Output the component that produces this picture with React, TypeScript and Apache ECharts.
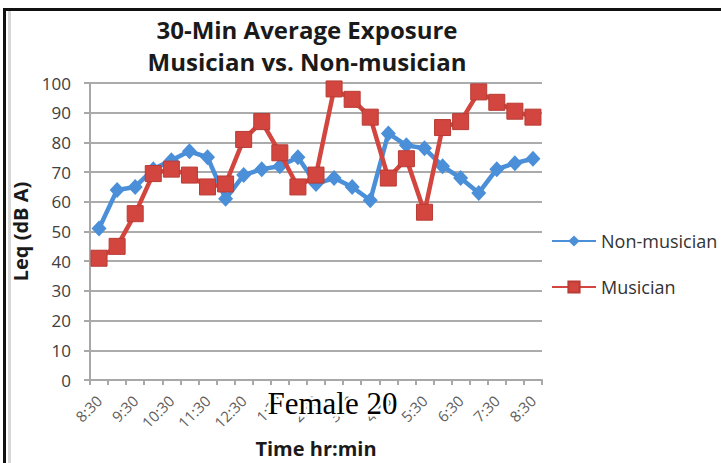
import React, { useEffect, useRef } from "react";
import * as echarts from "echarts";

// Half-hour sampling times, 8:30 am through 8:30 pm
const times = [
  "8:30", "9:00", "9:30", "10:00", "10:30", "11:00", "11:30", "12:00", "12:30",
  "1:00", "1:30", "2:00", "2:30", "3:00", "3:30", "4:00", "4:30", "5:00", "5:30",
  "6:00", "6:30", "7:00", "7:30", "8:00", "8:30",
];

// 30-minute Leq, dB(A)
const nonMusician = [
  51, 64, 65, 71, 74, 77, 75, 61, 69, 71, 72, 75, 66, 68, 65, 60.5, 83, 79, 78,
  72, 68, 63, 71, 73, 74.5,
];
const musician = [
  41, 45, 56, 69.5, 71, 69, 65, 66, 81, 87, 76.5, 65, 69, 98, 94.5, 88.5, 68,
  74.5, 56.5, 85, 87, 97, 93.5, 90.5, 88.5,
];

const yTicks = { min: 0, max: 100, interval: 10 };

const BLUE = "#4a8fd8";
const RED = "#d2463f";
const FONT = "'Open Sans', 'Noto Sans', sans-serif";

export default function App() {
  const ref = useRef<HTMLDivElement>(null);

  useEffect(() => {
    if (!ref.current) return;
    const chart = echarts.init(ref.current, undefined, { renderer: "svg" });
    chart.setOption({
      animation: false,
      backgroundColor: "#ffffff",
      title: {
        text: "30-Min Average Exposure\nMusician vs. Non-musician",
        left: 307,
        textAlign: "center",
        top: 13,
        padding: 0,
        textStyle: {
          fontFamily: FONT,
          fontWeight: "bold",
          fontSize: 24,
          lineHeight: 32,
          color: "#1a1a1a",
        },
      },
      legend: {
        orient: "vertical",
        left: 551,
        top: 232,
        padding: 0,
        itemWidth: 44,
        itemHeight: 14,
        itemGap: 28,
        textStyle: { fontFamily: FONT, fontSize: 18, color: "#333" },
        data: ["Non-musician", "Musician"],
      },
      grid: { left: 90, right: 179, top: 83, bottom: 82 },
      xAxis: {
        type: "category",
        data: times,
        boundaryGap: true,
        name: "Time hr:min",
        nameLocation: "middle",
        nameGap: 58,
        nameTextStyle: {
          fontFamily: FONT,
          fontWeight: "bold",
          fontSize: 20,
          color: "#1a1a1a",
        },
        axisLine: { lineStyle: { color: "#a8a8a8", width: 2 } },
        axisTick: {
          show: true,
          interval: 0,
          length: 5,
          lineStyle: { color: "#a8a8a8", width: 2 },
        },
        axisLabel: {
          interval: 1,
          rotate: 45,
          fontFamily: FONT,
          fontSize: 15,
          color: "#606060",
          margin: 18,
        },
      },
      yAxis: {
        type: "value",
        ...yTicks,
        name: "Leq (dB A)",
        nameLocation: "middle",
        nameGap: 42,
        nameTextStyle: {
          fontFamily: FONT,
          fontWeight: "bold",
          fontSize: 20,
          color: "#1a1a1a",
        },
        axisLine: { show: true, lineStyle: { color: "#a8a8a8", width: 2 } },
        axisTick: { show: true, length: 6, lineStyle: { color: "#a8a8a8", width: 2 } },
        axisLabel: {
          fontFamily: FONT,
          fontSize: 17,
          color: "#404040",
          margin: 19,
        },
        splitLine: { lineStyle: { color: "#8f8f8f", width: 1.5 } },
      },
      series: [
        {
          name: "Non-musician",
          type: "line",
          data: nonMusician,
          symbol: "diamond",
          symbolSize: [15, 16],
          showAllSymbol: true,
          lineStyle: { color: BLUE, width: 4.5 },
          itemStyle: { color: BLUE },
          z: 2,
        },
        {
          name: "Musician",
          type: "line",
          data: musician,
          symbol: "rect",
          symbolSize: 16,
          showAllSymbol: true,
          lineStyle: { color: RED, width: 4.5 },
          itemStyle: { color: RED, borderColor: "#b83b35", borderWidth: 1 },
          z: 3,
        },
      ],
      graphic: [
        // frame edges
        { type: "line", shape: { x1: 3, y1: 9.5, x2: 721, y2: 9.5 }, style: { stroke: "#111", lineWidth: 3 } },
        { type: "line", shape: { x1: 4.5, y1: 8, x2: 4.5, y2: 463 }, style: { stroke: "#111", lineWidth: 3 } },
        { type: "line", shape: { x1: 9.5, y1: 11, x2: 9.5, y2: 463 }, style: { stroke: "#d6d6d6", lineWidth: 3 } },
        {
          type: "text",
          left: 265,
          top: 385,
          z: 100,
          style: {
            text: "Female 20",
            font: "31px 'Liberation Serif', 'Times New Roman', serif",
            fill: "#000",
            stroke: "#fff",
            lineWidth: 5,
          },
        },
      ],
    });
    return () => chart.dispose();
  }, []);

  return (
    <div
      ref={ref}
      style={{ position: "fixed", left: 0, top: 0, width: 721, height: 463 }}
    />
  );
}
